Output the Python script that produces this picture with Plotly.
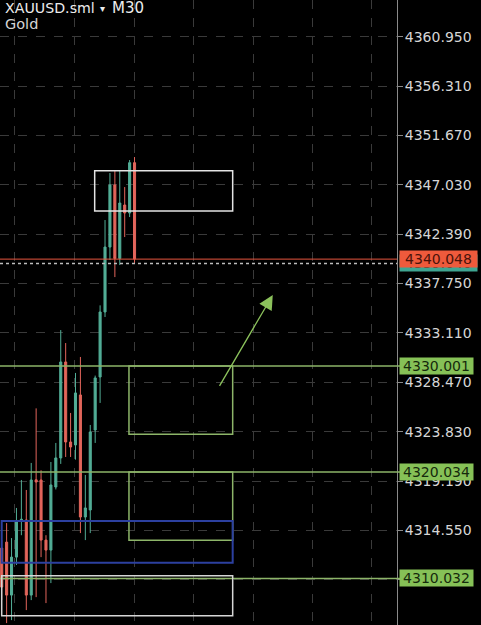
import plotly.graph_objects as go

# ---------------- data ----------------
candle_idx = list(range(28))
opens = [4312.89, 4313.45, 4308.47, 4312.04, 4315.45, 4315.53, 4308.47, 4319.30,
         4319.29, 4313.64, 4312.70, 4318.63, 4321.36, 4330.38, 4322.86, 4322.58,
         4327.28, 4315.81, 4316.47, 4323.99, 4328.97, 4335.08, 4341.18, 4347.01,
         4340.10, 4345.13, 4344.38, 4349.11]
highs = [4313.64, 4315.24, 4313.83, 4316.66, 4319.29, 4318.35, 4320.89, 4326.02,
         4320.20, 4314.10, 4320.98, 4322.77, 4333.38, 4332.16, 4325.59, 4329.35,
         4330.85, 4319.76, 4324.46, 4329.10, 4335.70, 4343.72, 4348.14, 4348.42,
         4348.42, 4346.82, 4349.36, 4349.64]
lows = [4308.00, 4305.84, 4306.12, 4311.30, 4314.10, 4307.06, 4308.00, 4308.28,
        4312.04, 4307.72, 4309.60, 4318.40, 4320.80, 4321.45, 4321.45, 4321.20,
        4314.30, 4313.64, 4314.30, 4322.77, 4326.53, 4334.61, 4339.96, 4338.36,
        4339.49, 4342.12, 4344.00, 4339.68]
closes = [4309.22, 4308.47, 4312.04, 4315.34, 4315.60, 4308.47, 4319.29, 4319.10,
          4313.64, 4312.70, 4318.82, 4321.36, 4330.38, 4322.86, 4322.39, 4327.47,
          4315.81, 4316.66, 4323.80, 4328.88, 4335.08, 4341.18, 4347.01, 4340.10,
          4345.32, 4344.38, 4349.11, 4340.048]

price_ticks = [4360.95, 4356.31, 4351.67, 4347.03, 4342.39, 4337.75, 4333.11,
               4328.47, 4323.83, 4319.19, 4314.55, 4309.91]
bottom_tick = 4305.27
time_grid = [2.7, 14.8, 26.9, 39.0, 51.1, 63.1, 75.2]

bid_price = 4340.048
ask_price = 4339.64
level_prices = [4330.001, 4320.034, 4310.032]

# zones: (x0, x1, y0, y1)
white_top_zone = (18.9, 46.95, 4344.57, 4348.36)
green_zones = [(25.87, 46.95, 4323.58, 4330.001), (25.87, 46.95, 4313.62, 4320.034)]
blue_zone = (0.0, 46.95, 4311.51, 4315.44)
white_bottom_zone = (0.0, 46.95, 4306.53, 4310.29)
arrow_from = (44.1, 4328.0)
arrow_to = (55.1, 4336.67)

symbol_text = "XAUUSD.sml"
menu_glyph = "\u25be"
timeframe_text = "M30"
subtitle_text = "Gold"

# ---------------- styles ----------------
GREEN = "#52ad96"
RED = "#e2655b"
LEVEL = "#8db569"
FONT = "DejaVu Sans"
W, H = 481, 625

fig = go.Figure()
fig.add_trace(go.Candlestick(
    x=candle_idx, open=opens, high=highs, low=lows, close=closes,
    increasing=dict(line=dict(color=GREEN, width=1), fillcolor=GREEN),
    decreasing=dict(line=dict(color=RED, width=1), fillcolor=RED),
    whiskerwidth=0, showlegend=False, hoverinfo="skip",
))

shapes = []
def rect(z, color, w):
    shapes.append(dict(type="rect", xref="x", yref="y", x0=z[0], x1=z[1], y0=z[2], y1=z[3],
                       line=dict(color=color, width=w), fillcolor="rgba(0,0,0,0)", layer="above"))

for p in level_prices:
    shapes.append(dict(type="line", xref="paper", yref="y", x0=0, x1=1.01, y0=p, y1=p,
                       line=dict(color=LEVEL, width=1.5), layer="above"))
rect(white_top_zone, "#e4e4e4", 1.5)
for z in green_zones:
    rect(z, LEVEL, 1.5)
rect(blue_zone, "#2c40a0", 2)
rect(white_bottom_zone, "#d6d6d6", 1.5)
shapes.append(dict(type="line", xref="paper", yref="y", x0=0, x1=1, y0=ask_price, y1=ask_price,
                   line=dict(color="#bdbdbd", width=1.5, dash="dot"), layer="above"))
shapes.append(dict(type="line", xref="paper", yref="y", x0=0, x1=1, y0=bid_price, y1=bid_price,
                   line=dict(color="#e8553f", width=1), layer="above"))

annotations = []
# arrow
annotations.append(dict(x=arrow_to[0], y=arrow_to[1], ax=arrow_from[0], ay=arrow_from[1],
                        xref="x", yref="y", axref="x", ayref="y", text="", showarrow=True,
                        arrowhead=2, arrowsize=2.2, arrowwidth=1.3, arrowcolor="#8cc25c"))

def price_label(p, bg, fg, w=72):
    annotations.append(dict(x=1, xref="paper", y=p, yref="y", xanchor="left", yanchor="middle",
                            xshift=2, text=f"{p:.3f}", showarrow=False, bgcolor=bg,
                            font=dict(family=FONT, size=14, color=fg), width=w, height=14,
                            borderpad=1, align="center"))

price_label(ask_price, "#3fa592", "#1b3b35", 75)
price_label(bid_price, "#ef5a3c", "#4a130a", 75)
for p in level_prices:
    price_label(p, "#86c157", "#152a0c", 71)

annotations.append(dict(x=1, xref="paper", y=bottom_tick, yref="y", xanchor="left",
                        yanchor="middle", xshift=4, text=f"{bottom_tick:.3f}", showarrow=False,
                        font=dict(family=FONT, size=14, color="#d6d6d6")))

def top_text(txt, xpx, ypx, size, color):
    annotations.append(dict(x=xpx / (W - 84), xref="paper", y=1 - ypx / H, yref="paper",
                            xanchor="left", yanchor="middle", text=txt, showarrow=False,
                            font=dict(family=FONT, size=size, color=color)))

top_text(symbol_text, 3, 7.5, 14.2, "#ececec")
top_text(menu_glyph, 98, 8, 10, "#ececec")
top_text(timeframe_text, 110, 7.5, 15, "#ececec")
top_text(subtitle_text, 3, 24, 14.5, "#d4d4d4")

fig.update_layout(
    width=W, height=H,
    margin=dict(l=0, r=84, t=0, b=0),
    paper_bgcolor="#000000", plot_bgcolor="#000000",
    boxgap=0.4,
    shapes=shapes, annotations=annotations,
    showlegend=False,
    xaxis=dict(range=[-0.346, 80.35], tickvals=time_grid, showticklabels=False,
               showgrid=True, gridcolor="#3a3a3a", griddash="dash", gridwidth=1,
               zeroline=False, showline=False, ticks="", rangeslider=dict(visible=False),
               fixedrange=True),
    yaxis=dict(range=[4305.66, 4364.40], side="right", tickvals=price_ticks,
               ticktext=[f"{v:.3f}" for v in price_ticks],
               tickfont=dict(family=FONT, size=14, color="#d6d6d6"),
               ticks="outside", ticklen=5, tickcolor="#8a8a8a", ticklabelstandoff=-1,
               showgrid=True, gridcolor="#3a3a3a", griddash="dash", gridwidth=1,
               showline=True, linecolor="#8a8a8a", linewidth=1,
               zeroline=False, fixedrange=True),
)

fig.write_html(
    "out.html",
    config={"displayModeBar": False},
    post_script="document.body.style.margin='0';document.body.style.background='#000';",
)
